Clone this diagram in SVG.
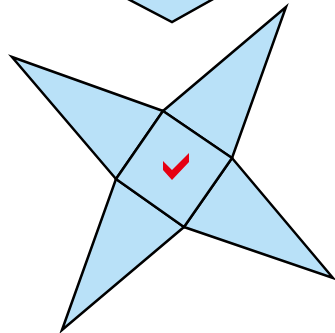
<svg xmlns="http://www.w3.org/2000/svg" width="335" height="333" viewBox="0 0 335 333">
<style>
.s{fill:#b9e1f8;stroke:#000;stroke-width:2.5;stroke-linejoin:miter;stroke-miterlimit:10}
.chk{fill:#e60012}
</style>
<rect width="335" height="333" fill="#fff"/>
<g id="top-partial"><polygon class="s" points="126,-2 172,22 215,-2"/></g>
<g id="tri-tl"><polygon class="s" points="12,57 163,111 116,179"/></g>
<g id="tri-tr"><polygon class="s" points="286,7 163,111 232,158"/></g>
<g id="tri-br"><polygon class="s" points="333,278 232,158 184,227"/></g>
<g id="tri-bl"><polygon class="s" points="62,330 116,179 184,227"/></g>
<g id="center"><polygon class="s" points="163,111 232,158 184,227 116,179"/></g>
<g id="check"><polygon class="chk" points="163,161 172,170 189,153 189,162 172,180 163,170"/></g>
</svg>
